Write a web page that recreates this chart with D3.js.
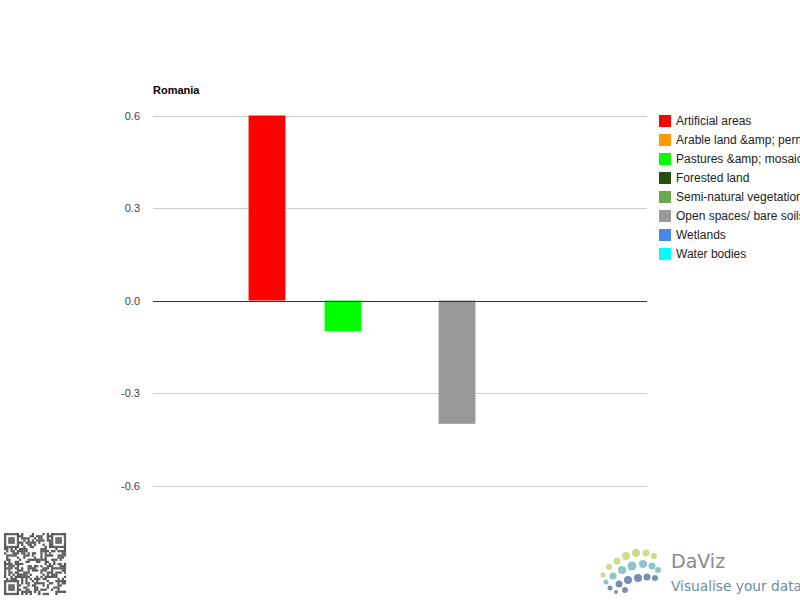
<!DOCTYPE html>
<html><head><meta charset="utf-8">
<script src="https://cdn.jsdelivr.net/npm/d3@7"></script>
<style>body{margin:0;background:#fff;overflow:hidden}svg{display:block;font-family:"Liberation Sans",Arial,sans-serif}</style>
</head><body>
<svg id="c" width="800" height="600"></svg>
<script>
const title = "Romania";
const series = ["Artificial areas","Arable land &amp; permanent crops","Pastures &amp; mosaics","Forested land","Semi-natural vegetation","Open spaces/ bare soils","Wetlands","Water bodies"];
const values = [0.6, 0, -0.1, 0, 0, -0.4, 0, 0];
const colors = ["#ff0000","#ff9900","#00ff00","#274e13","#6aa84f","#999999","#4a86e8","#00ffff"];
const yTicks = [-0.6, -0.3, 0, 0.3, 0.6];

const svg = d3.select("#c");
const L = 153, R = 647, T = 115.5, B = 485.5;
const y = d3.scaleLinear().domain([-0.6, 0.6]).range([B, T]);
const x = d3.scaleBand().domain(series).range([L, R]).paddingInner(0.03).paddingOuter(2.515);
const fmt = d => d3.format(".1f")(d).replace("\u2212", "-");

// gridlines
svg.append("g").selectAll("line").data(yTicks.filter(d=>d!==0)).join("line")
  .attr("x1", L).attr("x2", R).attr("y1", d=>Math.round(y(d))+0.5).attr("y2", d=>Math.round(y(d))+0.5)
  .attr("stroke", "#cccccc").attr("stroke-width", 1);

// tick labels
svg.append("g").selectAll("text").data(yTicks).join("text")
  .attr("x", 140).attr("y", d=>y(d)+4).attr("text-anchor","end")
  .attr("font-size", 11).attr("fill", "#444")
  .text(fmt);

// bars
svg.append("g").selectAll("rect").data(values.map((v,i)=>({v,i}))).join("rect")
  .attr("x", d=>x(series[d.i])).attr("width", x.bandwidth())
  .attr("y", d=>y(Math.max(0,d.v))).attr("height", d=>Math.abs(y(d.v)-y(0)))
  .attr("fill", d=>colors[d.i]);

// zero line
svg.append("line").attr("x1", L).attr("x2", R).attr("y1", Math.round(y(0))+0.5).attr("y2", Math.round(y(0))+0.5)
  .attr("stroke", "#333").attr("stroke-width", 1);

// title
svg.append("text").attr("x", L).attr("y", 94).attr("font-size", 11).attr("font-weight","bold").attr("fill","#000").text(title);

// legend
const lg = svg.append("g");
series.forEach((s,i)=>{
  const yy = 115 + i*19;
  lg.append("rect").attr("x", 659).attr("y", yy).attr("width", 12).attr("height", 12).attr("fill", colors[i]);
  lg.append("text").attr("x", 676).attr("y", yy+10).attr("font-size", 12).attr("fill","#222").text(s);
});

// QR-like decoration
(function(){
  const g = svg.append("g").attr("transform","translate(4,533)");
  const n = 29, m = 62/n;
  let s = 12345;
  const rnd = ()=>{ s = (s*1103515245 + 12345) & 0x7fffffff; return s/0x7fffffff; };
  const finder = (r,c)=> (r<7&&c<7)||(r<7&&c>=n-7)||(r>=n-7&&c<7);
  for(let r=0;r<n;r++) for(let c=0;c<n;c++){
    let on;
    if(finder(r,c)){
      const rr = r<7?r:r-(n-7), cc = c<7?c:c-(n-7);
      on = (rr===0||rr===6||cc===0||cc===6) || (rr>=2&&rr<=4&&cc>=2&&cc<=4);
    } else on = rnd() < 0.5;
    if(on) g.append("rect").attr("x", c*m).attr("y", r*m).attr("width", m+0.1).attr("height", m+0.1).attr("fill","#555");
  }
})();

// DaViz logo
(function(){
  const g = svg.append("g");
  const dots = [
    [603,575,2.5,"#cddb8c"],[609,567,3,"#cddb8c"],[617,561,3.5,"#cddb8c"],[626,556,4,"#cddb8c"],[636,553,4,"#cddb8c"],[646,553,3.5,"#cddb8c"],[654,556,3,"#cddb8c"],
    [606,582,2.5,"#8cc6cc"],[613,576,3.5,"#8cc6cc"],[622,570,4,"#8cc6cc"],[632,566,4.5,"#8cc6cc"],[643,564,4,"#8cc6cc"],[652,566,3.5,"#8cc6cc"],[658,570,3,"#8cc6cc"],
    [610,588,2.5,"#7a8fb0"],[619,584,3.5,"#7a8fb0"],[628,580,4,"#7a8fb0"],[638,578,4,"#7a8fb0"],[647,577,3.5,"#7a8fb0"],[655,578,3,"#7a8fb0"],
    [616,592,2,"#7a8fb0"],[625,590,3,"#7a8fb0"]
  ];
  dots.forEach(d=>g.append("circle").attr("cx",d[0]).attr("cy",d[1]).attr("r",d[2]).attr("fill",d[3]));
  g.append("text").attr("x",671).attr("y",568).attr("font-size",19).attr("fill","#8a8a8a").attr("font-family","'DejaVu Sans',sans-serif").text("DaViz");
  g.append("text").attr("x",671).attr("y",591).attr("font-size",14).attr("fill","#6f8ba0").attr("font-family","'DejaVu Sans',sans-serif")
    .attr("textLength",131).attr("lengthAdjust","spacingAndGlyphs").text("Visualise your data");
})();
</script>
</body></html>
